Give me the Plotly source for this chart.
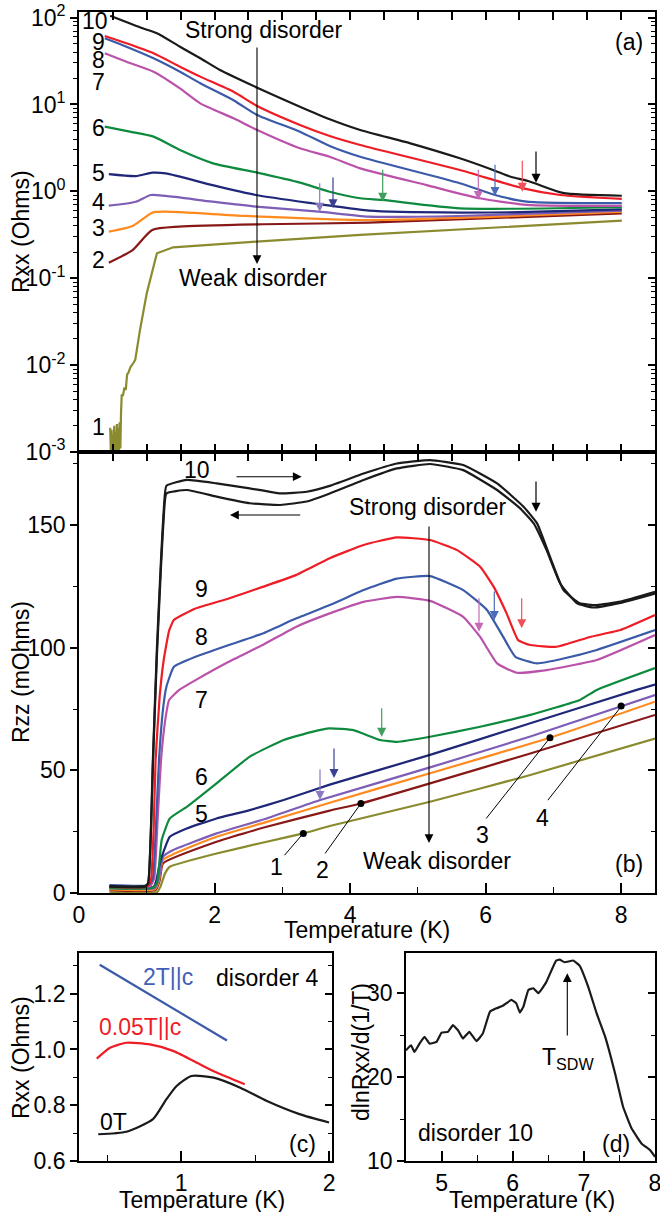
import plotly.graph_objects as go

W, H = 660, 1212
def px(x): return x / W
def py(y): return 1 - y / H

FONT = "Arial, Liberation Sans, sans-serif"
FS = 23

# ---------------- Panel (a): Rxx (Ohms) vs Temperature (K), log scale ----------------
a_T10 = [0.46, 0.94, 1.15, 1.49, 1.79, 2.08, 2.63, 3.26, 3.70, 4.15, 4.89, 5.62, 6.11, 6.36, 6.66, 7.14, 8.01]
a_R10 = [105, 75.2, 65.9, 46.2, 34.0, 24.9, 15.6, 9.42, 6.75, 5.08, 3.57, 2.40, 1.76, 1.48, 1.29, 0.96, 0.89]
a_T9 = [0.38, 0.70, 1.10, 1.49, 1.79, 2.28, 2.63, 3.26, 3.70, 4.15, 5.62, 6.54, 7.10, 8.01]
a_R9 = [61.4, 50.6, 38.8, 27.2, 20.9, 14.0, 9.6, 5.81, 4.34, 3.42, 1.76, 1.09, 0.908, 0.82]
a_T8 = [0.38, 0.70, 1.10, 1.49, 1.79, 2.28, 2.63, 3.26, 3.70, 4.15, 5.62, 6.14, 6.61, 8.01]
a_R8 = [57.7, 46.2, 34.0, 23.8, 17.5, 11.2, 7.56, 4.86, 3.33, 2.50, 1.24, 0.908, 0.76, 0.73]
a_T7 = [0.38, 0.70, 1.10, 1.49, 1.79, 2.28, 2.63, 3.26, 3.70, 4.15, 5.13, 5.89, 6.61, 8.01]
a_R7 = [38.8, 31.0, 23.8, 15.3, 10.3, 6.93, 5.08, 3.13, 2.50, 1.84, 1.18, 0.839, 0.697, 0.68]
a_T6 = [0.38, 0.75, 1.10, 1.49, 1.98, 2.63, 3.26, 3.70, 4.15, 4.48, 5.62, 8.01]
a_R6 = [5.55, 4.86, 4.26, 2.99, 2.10, 1.64, 1.26, 0.99, 0.832, 0.796, 0.638, 0.656]
a_T5 = [0.44, 0.84, 1.08, 1.28, 1.97, 2.61, 3.44, 3.74, 4.28, 5.62, 6.50, 8.01]
a_R5 = [1.58, 1.50, 1.64, 1.61, 1.18, 0.908, 0.729, 0.679, 0.60, 0.57, 0.575, 0.62]
a_T4 = [0.44, 0.84, 1.06, 1.28, 1.97, 2.61, 3.54, 4.28, 5.60, 8.01]
a_R4 = [0.684, 0.760, 0.908, 0.885, 0.760, 0.667, 0.583, 0.511, 0.52, 0.60]
a_T3 = [0.44, 0.79, 1.08, 1.28, 2.46, 4.28, 8.01]
a_R3 = [0.344, 0.399, 0.568, 0.583, 0.521, 0.468, 0.578]
a_T2 = [0.44, 0.79, 1.08, 1.48, 2.71, 4.28, 8.01]
a_R2 = [0.151, 0.211, 0.359, 0.392, 0.418, 0.436, 0.558]
a_T1 = [0.46, 0.47, 0.48, 0.49, 0.50, 0.51, 0.52, 0.53, 0.54, 0.55, 0.56, 0.57, 0.58, 0.59,
        0.60, 0.61, 0.62, 0.63, 0.65, 0.67, 0.69, 0.71, 0.73, 0.76, 0.80, 0.83, 0.90, 1.00,
        1.15, 1.39, 2.62, 3.70, 4.15, 8.01]
a_R1 = [0.0019, 0.0010, 0.0018, 0.0010, 0.0016, 0.0010, 0.0020, 0.0010, 0.0017, 0.0010,
        0.0021, 0.0010, 0.0019, 0.0010, 0.0022, 0.0011, 0.0028, 0.0045, 0.0045, 0.0055,
        0.0052, 0.0078, 0.0082, 0.0095, 0.0105, 0.0115, 0.0254, 0.0671, 0.194, 0.227,
        0.264, 0.301, 0.315, 0.46]

# ---------------- Panel (b): Rzz (mOhms) vs Temperature (K) ----------------
b_T10u = [0.45, 0.97, 1.02, 1.06, 1.09, 1.15, 1.21, 1.25, 1.29, 1.59, 2.03, 2.52, 2.97, 3.36, 3.70,
          4.20, 4.69, 5.18, 5.67, 6.17, 6.56, 6.76, 6.95, 7.15, 7.39, 7.64, 7.99, 8.5]
b_R10u = [2.8, 2.8, 4, 25, 54, 100, 136, 156, 166, 168.4, 167, 165, 162.9, 163.6, 166,
          171, 175.1, 176.5, 174.5, 167, 157.5, 150.7, 137.1, 123.5, 118.1, 117.4, 118.8, 122.8]
b_T10d = [0.45, 0.97, 1.02, 1.06, 1.09, 1.15, 1.21, 1.25, 1.29, 1.59, 2.03, 2.52, 2.97, 3.36, 3.70,
          4.20, 4.69, 5.18, 5.67, 6.17, 6.51, 6.71, 6.90, 7.10, 7.35, 7.59, 7.99, 8.5]
b_R10d = [2.6, 2.6, 4, 24, 52, 97, 133, 153, 162.9, 164.3, 161.6, 158.9, 158.2, 159.6, 162.9,
          168.4, 173.1, 174.9, 172.4, 164.3, 156.8, 150.7, 139.8, 126.2, 118.1, 116.4, 118.3, 122.1]
b_T9 = [0.45, 1.00, 1.06, 1.10, 1.13, 1.19, 1.25, 1.33, 1.40, 1.72, 2.21, 2.71, 3.20, 3.70, 4.20,
        4.69, 5.18, 5.58, 5.92, 6.12, 6.31, 6.48, 6.66, 7.05, 7.54, 7.99, 8.5]
b_R9 = [2.5, 2.5, 5, 25, 54, 80, 95, 107, 111.3, 116, 120.1, 124.8, 129.6, 136.5, 141.9,
        145, 143.9, 139.8, 133, 124.8, 114, 103.1, 101.1, 100.4, 104.4, 107.2, 113.3]
b_T8 = [0.45, 1.03, 1.09, 1.14, 1.18, 1.24, 1.29, 1.40, 1.72, 2.21, 2.71, 3.20, 3.70, 4.20, 4.69,
        5.18, 5.67, 6.02, 6.26, 6.44, 6.76, 7.15, 7.64, 8.5]
b_R8 = [3.2, 3.2, 6, 30, 54, 75, 84.1, 92.2, 96.3, 101.1, 105.8, 111.9, 117.4, 123.5, 128.2,
        129.2, 123.5, 115.4, 104.4, 96.3, 93.6, 95.6, 99.1, 107.2]
b_T7 = [0.45, 1.05, 1.11, 1.16, 1.21, 1.27, 1.33, 1.48, 1.72, 2.21, 2.71, 3.20, 3.70, 4.20, 4.69,
        5.18, 5.67, 5.92, 6.17, 6.46, 6.90, 7.64, 8.5]
b_R7 = [2.8, 2.8, 6, 30, 54, 70, 78.7, 82.8, 86.8, 94.3, 101.1, 108.5, 114, 118.7, 120.7,
        119.1, 112.6, 104.4, 93.6, 89.8, 90.9, 95.0, 105.2]
b_T6 = [0.45, 1.08, 1.15, 1.22, 1.34, 1.59, 2.03, 2.52, 3.02, 3.44, 3.70, 4.05, 4.44, 4.69, 5.18,
        5.92, 6.66, 7.39, 7.64, 8.5]
b_R6 = [2.0, 2.0, 4, 21.6, 30.4, 35.1, 44.7, 55.6, 62.4, 65.7, 67.1, 66.4, 62.4, 61.6, 63.7,
        67.8, 72.6, 78.7, 82.8, 91.7]
b_T5 = [0.45, 1.10, 1.14, 1.20, 1.34, 1.59, 2.03, 2.52, 3.02, 3.70, 5.18, 6.66, 8.23, 8.5]
b_R5 = [2.5, 2.5, 5, 13, 22.9, 26.3, 30.4, 33.8, 37.9, 44.2, 56.3, 69.2, 82.8, 85]
b_T4 = [0.45, 1.12, 1.18, 1.24, 1.39, 2.03, 2.77, 3.56, 5.18, 6.66, 8.5]
b_R4 = [2.0, 2.0, 6, 14.8, 17.5, 24.3, 30.4, 37.9, 51.2, 63.8, 80.7]
b_T3 = [0.45, 1.12, 1.18, 1.24, 2.03, 2.77, 3.70, 5.18, 6.95, 8.5]
b_R3 = [1.5, 1.5, 5, 13.5, 22.9, 29.0, 36.8, 48.8, 63.3, 78]
b_T2 = [0.45, 1.13, 1.19, 1.24, 2.03, 2.77, 3.70, 4.16, 5.18, 6.66, 8.5]
b_R2 = [1.2, 1.2, 5, 12.1, 20.9, 27.0, 33.6, 36.5, 44.7, 56.9, 72.6]
b_T1 = [0.45, 1.15, 1.20, 1.27, 1.34, 2.03, 2.77, 3.31, 3.70, 5.18, 6.66, 8.5]
b_R1 = [0.3, 0.3, 2.5, 8, 10.7, 16.1, 20.9, 24.3, 27.3, 37.2, 48.1, 63]
# marked points on curves 1-4
b_dotT = [3.31, 4.16, 6.95, 8.0]
b_dotR = [24.3, 36.5, 63.3, 76.2]

# ---------------- Panel (c): disorder 4, Rxx (Ohms) at different fields ----------------
c_T_2T = [0.45, 0.88, 1.31]
c_R_2T = [1.304, 1.167, 1.032]
c_T_005 = [0.43, 0.52, 0.63, 0.79, 0.95, 1.13, 1.24, 1.43]
c_R_005 = [0.967, 1.006, 1.024, 1.018, 0.994, 0.946, 0.917, 0.875]
c_T_0 = [0.44, 0.63, 0.81, 0.90, 0.97, 1.07, 1.22, 1.40, 1.58, 1.80, 2.0]
c_R_0 = [0.696, 0.705, 0.75, 0.821, 0.869, 0.905, 0.899, 0.863, 0.815, 0.768, 0.738]

# ---------------- Panel (d): disorder 10, dlnRxx/d(1/T) ----------------
d_T = [4.50, 4.57, 4.62, 4.69, 4.76, 4.83, 4.93, 5.00, 5.09, 5.16, 5.23, 5.30, 5.39, 5.49, 5.58,
       5.68, 5.77, 5.86, 5.98, 6.05, 6.10, 6.15, 6.22, 6.29, 6.36, 6.47, 6.61, 6.66, 6.73, 6.85,
       6.94, 7.06, 7.18, 7.30, 7.44, 7.55, 7.67, 7.81, 7.93, 8.00]
d_V = [23.2, 23.8, 23.0, 24.0, 24.8, 24.0, 24.2, 25.3, 25.4, 26.2, 25.6, 24.6, 25.4, 24.3, 25.2,
       27.8, 28.2, 28.5, 29.2, 28.8, 27.7, 28.4, 30.4, 30.6, 30.0, 31.3, 33.9, 34.0, 33.7, 33.9,
       33.3, 30.8, 27.6, 24.8, 20.4, 16.5, 13.9, 12.1, 11.3, 10.5]

COL = {10: '#1a1a1a', 9: '#ee1c25', 8: '#3b5aa8', 7: '#bb52aa', 6: '#0e8a3e',
       5: '#1f2778', 4: '#7d5db5', 3: '#ff8a1e', 2: '#881818', 1: '#8a8a2e'}

fig = go.Figure()

def line(x, y, color, xa, ya, width=2.2, smooth=None):
    ln = dict(color=color, width=width)
    if smooth:
        ln.update(shape='spline', smoothing=smooth)
    fig.add_trace(go.Scatter(x=x, y=y, mode='lines', line=ln,
                             xaxis=xa, yaxis=ya, showlegend=False, hoverinfo='skip'))

a_sets = [(a_T1, a_R1, 1), (a_T2, a_R2, 2), (a_T3, a_R3, 3), (a_T4, a_R4, 4), (a_T5, a_R5, 5),
          (a_T6, a_R6, 6), (a_T7, a_R7, 7), (a_T8, a_R8, 8), (a_T9, a_R9, 9), (a_T10, a_R10, 10)]
for t, r, k in a_sets:
    line(t, r, COL[k], 'x', 'y', smooth=None if k == 1 else 0.6)

b_sets = [(b_T1, b_R1, 1), (b_T2, b_R2, 2), (b_T3, b_R3, 3), (b_T4, b_R4, 4), (b_T5, b_R5, 5),
          (b_T6, b_R6, 6), (b_T7, b_R7, 7), (b_T8, b_R8, 8), (b_T9, b_R9, 9),
          (b_T10u, b_R10u, 10), (b_T10d, b_R10d, 10)]
for t, r, k in b_sets:
    line(t, r, COL[k], 'x2', 'y2', smooth=0.4)
fig.add_trace(go.Scatter(x=b_dotT, y=b_dotR, mode='markers', marker=dict(color='black', size=7),
                         xaxis='x2', yaxis='y2', showlegend=False, hoverinfo='skip'))

line(c_T_2T, c_R_2T, '#3b5aa8', 'x3', 'y3')
line(c_T_005, c_R_005, '#ee1c25', 'x3', 'y3', smooth=0.6)
line(c_T_0, c_R_0, '#1a1a1a', 'x3', 'y3', smooth=0.6)

line(d_T, d_V, '#1a1a1a', 'x4', 'y4', smooth=0.3)

# empty traces so the overlay (mirror-tick) axes are drawn
for xa, ya in [('x', 'y5'), ('x5', 'y2'), ('x2', 'y6'), ('x3', 'y7'), ('x4', 'y8')]:
    fig.add_trace(go.Scatter(x=[None], y=[None], xaxis=xa, yaxis=ya, showlegend=False, hoverinfo='skip'))

# ---------------- axes ----------------
TICKF = dict(family=FONT, size=FS, color='black')
base = dict(showgrid=False, zeroline=False, showline=True, linecolor='black', linewidth=1.8,
            tickcolor='black', tickwidth=1.5, tickfont=TICKF, automargin=False,
            ticklabeloverflow='allow')
ov = dict(showgrid=False, zeroline=False, showline=False, tickcolor='black', tickwidth=1.5,
          showticklabels=False, automargin=False)

dec = [1e-3, 1e-2, 1e-1, 1, 10, 100]
dec_txt = ['10<sup>-3</sup>', '10<sup>-2</sup>', '10<sup>-1</sup>', '10<sup>0</sup>', '10<sup>1</sup>', '10<sup>2</sup>']
minor_log = [m * 10.0 ** e for e in range(-3, 2) for m in range(2, 10)]

def mn(vals, side, ln=4):
    return dict(tickmode='array', tickvals=vals, ticks=side, ticklen=ln, tickcolor='black', tickwidth=1.2)

dom_ab_x = [px(79), px(655)]
dom_a_y = [py(452), py(12)]
dom_b_y = [py(893), py(452)]
dom_c_x = [px(79), px(332)]
dom_d_x = [px(406), px(655)]
dom_cd_y = [py(1161), py(953)]

layout_axes = dict(
    xaxis=dict(base, domain=dom_ab_x, anchor='y', range=[0, 8.5], tickmode='linear', tick0=0, dtick=0.5,
               ticks='inside', ticklen=8, mirror='ticks', showticklabels=False),
    yaxis=dict(base, domain=dom_a_y, anchor='x', type='log', range=[-3, 2.064], tickmode='array',
               tickvals=dec, ticktext=dec_txt, ticks='outside', ticklen=7, mirror=True,
               minor=mn(minor_log, 'outside')),
    yaxis5=dict(ov, overlaying='y', side='right', anchor='x', type='log', range=[-3, 2.064],
                tickmode='array', tickvals=dec, ticks='inside', ticklen=7, minor=mn(minor_log, 'inside')),
    xaxis2=dict(base, domain=dom_ab_x, anchor='y2', range=[0, 8.5], tickmode='array',
                tickvals=[0, 2, 4, 6, 8], ticks='inside', ticklen=10, mirror=True,
                minor=mn([1, 3, 5, 7], 'inside', 6)),
    xaxis5=dict(ov, overlaying='x2', side='top', anchor='y2', range=[0, 8.5], tickmode='linear', tick0=0,
                dtick=0.5, ticks='inside', ticklen=9),
    yaxis2=dict(base, domain=dom_b_y, anchor='x2', range=[0, 179.8], tickmode='array',
                tickvals=[0, 50, 100, 150], ticks='outside', ticklen=7, mirror=True,
                minor=mn([25, 75, 125, 175], 'outside')),
    yaxis6=dict(ov, overlaying='y2', side='right', anchor='x2', range=[0, 179.8], tickmode='array',
                tickvals=[0, 50, 100, 150], ticks='inside', ticklen=7,
                minor=mn([25, 75, 125, 175], 'inside')),
    xaxis3=dict(base, domain=dom_c_x, anchor='y3', range=[0.31, 2.02], tickmode='array',
                tickvals=[1, 2], ticks='inside', ticklen=10, mirror=True,
                minor=mn([0.5, 1.5], 'inside', 6)),
    yaxis3=dict(base, domain=dom_cd_y, anchor='x3', range=[0.6, 1.346], tickmode='array',
                tickvals=[0.6, 0.8, 1.0, 1.2], ticktext=['0.6', '0.8', '1.0', '1.2'],
                ticks='outside', ticklen=7, mirror=True, minor=mn([0.7, 0.9, 1.1, 1.3], 'outside')),
    yaxis7=dict(ov, overlaying='y3', side='right', anchor='x3', range=[0.6, 1.346], tickmode='array',
                tickvals=[0.6, 0.8, 1.0, 1.2], ticks='inside', ticklen=7,
                minor=mn([0.7, 0.9, 1.1, 1.3], 'inside')),
    xaxis4=dict(base, domain=dom_d_x, anchor='y4', range=[4.5, 8.0], tickmode='array',
                tickvals=[5, 6, 7, 8], ticks='inside', ticklen=10, mirror=True,
                minor=mn([5.5, 6.5, 7.5], 'inside', 6)),
    yaxis4=dict(base, domain=dom_cd_y, anchor='x4', range=[10, 34.8], tickmode='array',
                tickvals=[10, 20, 30], ticks='outside', ticklen=7, mirror=True,
                minor=mn([15, 25], 'outside')),
    yaxis8=dict(ov, overlaying='y4', side='right', anchor='x4', range=[10, 34.8], tickmode='array',
                tickvals=[10, 20, 30], ticks='inside', ticklen=7, minor=mn([15, 25], 'inside')),
)

# ---------------- annotations ----------------
ann = []
def text(s, x, y, color='black', size=FS, angle=0):
    ann.append(dict(text=s, x=px(x), y=py(y), xref='paper', yref='paper', showarrow=False,
                    xanchor='center', yanchor='middle', textangle=angle,
                    font=dict(family=FONT, size=size, color=color)))

def arrow(x0, y0, x1, y1, color='black', head=2, width=1.2, size=1.5):
    # tail (x0,y0) -> tip (x1,y1), pixel positions in the page
    ann.append(dict(text='', x=px(x1), y=py(y1), xref='paper', yref='paper', showarrow=True,
                    ax=x0 - x1, ay=y0 - y1, arrowhead=head, arrowsize=size, arrowwidth=width,
                    arrowcolor=color, standoff=0, startstandoff=0))

# panel (a)
for lab, yy, xx in [('10', 21, 95), ('9', 42, 98), ('8', 60, 98), ('7', 82, 98), ('6', 128, 98),
                    ('5', 173, 98), ('4', 202, 98), ('3', 228, 98), ('2', 260, 98), ('1', 427, 98)]:
    text(lab, xx, yy)
text('Strong disorder', 264, 30)
text('Weak disorder', 253, 278)
text('(a)', 629, 42)
arrow(257, 46, 257, 264, head=2, width=1.1, size=1.6)
arrow(319.7, 181.7, 319.7, 211.7, color='#8b79c1')
arrow(333, 176, 333, 208.3, color='#3b3f93')
arrow(382.7, 168.3, 382.7, 201.7, color='#3e9f5e')
arrow(478.3, 168.3, 478.3, 200, color='#c56bb5')
arrow(495, 163.3, 495, 196, color='#4c6bb8')
arrow(522.3, 159.3, 522.3, 191.7, color='#f0505a')
arrow(536, 150, 536, 182.7, color='black')

# panel (b)
for lab, xx, yy in [('10', 197, 470), ('9', 202, 589), ('8', 202, 637), ('7', 201, 700),
                    ('6', 202, 777), ('5', 202, 814), ('1', 276, 867), ('2', 322, 870),
                    ('3', 482, 835), ('4', 542, 818)]:
    text(lab, xx, yy)
text('Strong disorder', 428, 507)
text('Weak disorder', 437, 861)
text('(b)', 629, 864)
arrow(429, 525, 429, 843, head=2, width=1.1, size=1.6)
arrow(235, 476.7, 301.7, 476.7, head=2, width=1.1, size=1.6)
arrow(301.7, 515, 230, 515, head=2, width=1.1, size=1.6)
arrow(320, 768, 320, 800, color='#8b79c1')
arrow(334, 747, 334, 778, color='#3b3f93')
arrow(381.7, 706.7, 381.7, 736.7, color='#3e9f5e')
arrow(479, 596.7, 479, 631.7, color='#c56bb5')
arrow(494.3, 590, 494.3, 620, color='#4c6bb8')
arrow(521.7, 596.7, 521.7, 628.3, color='#f0505a')
arrow(536, 480, 536, 511.7, color='black')
# leader lines from number labels to marked points
arrow(283.3, 856.7, 303.3, 833.3, head=0, width=1)
arrow(324, 855, 361, 803.3, head=0, width=1)
arrow(485, 820, 550, 737.7, head=0, width=1)
arrow(546.7, 801.7, 621, 706.7, head=0, width=1)

# axis titles
text('Rxx (Ohms)', 21, 232, angle=-90)
text('Rzz (mOhms)', 21, 672, angle=-90)
text('Temperature (K)', 367, 930)

# panel (c)
text('2T||c', 168, 977, color='#4060b8')
text('disorder 4', 267, 978)
text('0.05T||c', 140, 1027, color='#ee1c25')
text('0T', 113, 1122)
text('(c)', 302, 1144)
text('Rxx (Ohms)', 21, 1058, angle=-90)
text('Temperature (K)', 202, 1200)

# panel (d)
text('disorder 10', 475, 1133)
text('(d)', 616, 1144)
text('T<sub>SDW</sub>', 568, 1058)
arrow(567.3, 1037, 567.3, 973.3, head=2, width=1.1, size=1.6)
text('dlnRxx/d(1/T)', 361, 1052, angle=-90)
text('Temperature (K)', 532, 1200)

fig.update_layout(
    width=W, height=H, margin=dict(l=0, r=0, t=0, b=0, pad=0), autosize=False,
    paper_bgcolor='white', plot_bgcolor='white',
    font=dict(family=FONT, size=FS, color='black'),
    showlegend=False, annotations=ann, **layout_axes)

fig.write_html("out.html", config={'displayModeBar': False},
               post_script="document.body.style.margin='0px';document.body.style.overflow='hidden';")
